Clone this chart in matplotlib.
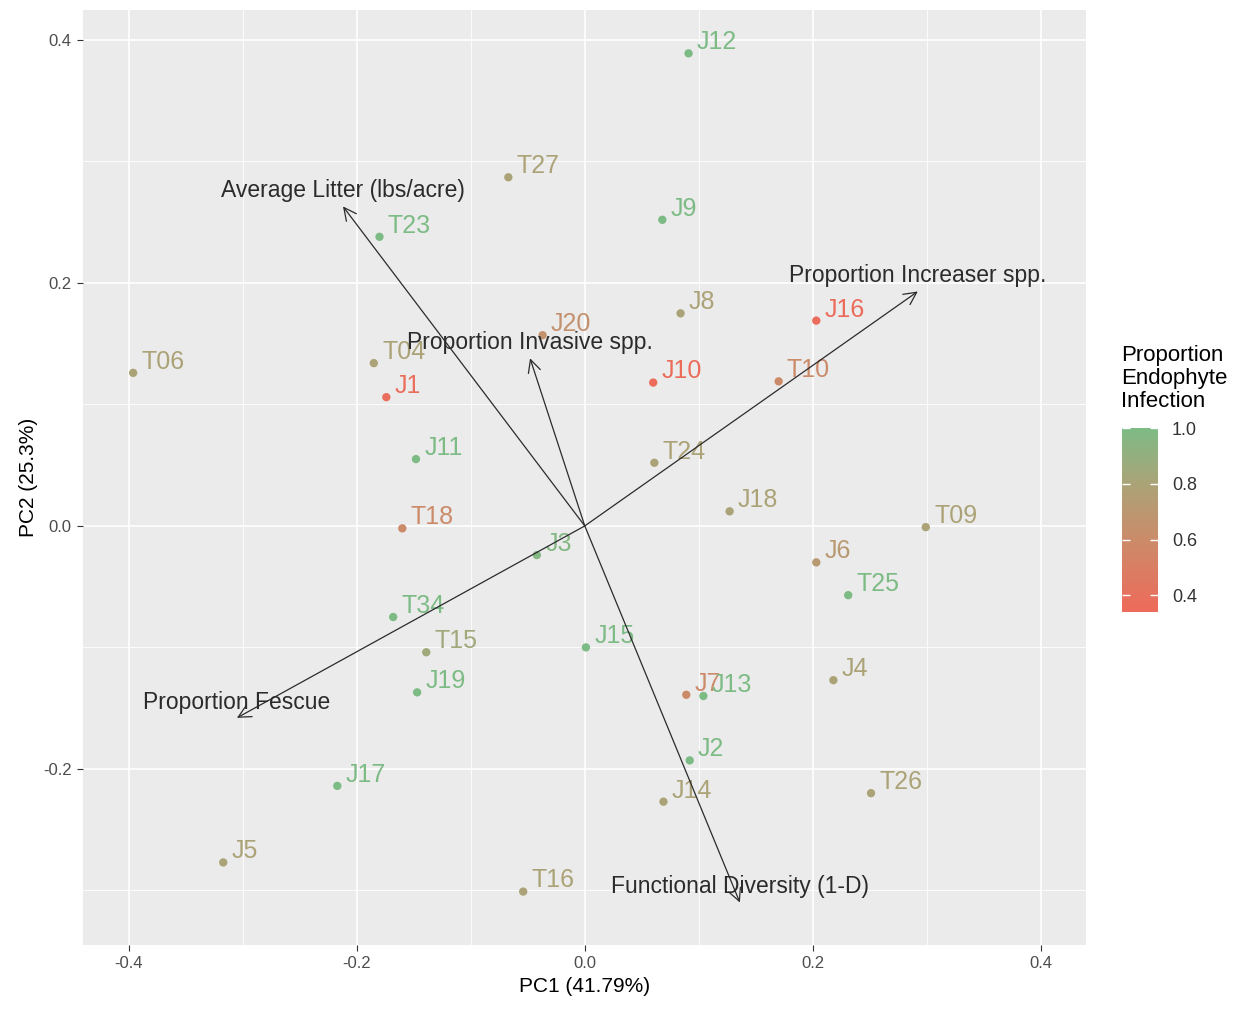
import numpy as np
import matplotlib
matplotlib.use("Agg")
import matplotlib.pyplot as plt
from matplotlib.colors import LinearSegmentedColormap, Normalize

plt.rcParams["font.family"] = ["Liberation Sans", "DejaVu Sans"]

# ============================================================
# DATA
# ============================================================

sites = ["J12", "T27", "J9", "T23", "J8", "J16", "J20", "T04", "T06", "J1",
         "J10", "T10", "J11", "T24", "J18", "T09", "T18", "J3", "J6", "T25",
         "T34", "T15", "J15", "J4", "J19", "J7", "J13", "J2", "J17", "T26",
         "J14", "J5", "T16"]
pc1 = [0.091, -0.067, 0.068, -0.180, 0.084, 0.203, -0.037, -0.185, -0.396, -0.174,
       0.060, 0.170, -0.148, 0.061, 0.127, 0.299, -0.160, -0.042, 0.203, 0.231,
       -0.168, -0.139, 0.001, 0.218, -0.147, 0.089, 0.104, 0.092, -0.217, 0.251,
       0.069, -0.317, -0.054]
pc2 = [0.389, 0.287, 0.252, 0.238, 0.175, 0.169, 0.157, 0.134, 0.126, 0.106,
       0.118, 0.119, 0.055, 0.052, 0.012, -0.001, -0.002, -0.024, -0.030, -0.057,
       -0.075, -0.104, -0.100, -0.127, -0.137, -0.139, -0.140, -0.193, -0.214, -0.220,
       -0.227, -0.277, -0.301]
infection = [1.0, 0.8, 1.0, 1.0, 0.8, 0.36, 0.65, 0.8, 0.8, 0.37,
             0.36, 0.6, 1.0, 0.8, 0.8, 0.8, 0.6, 0.97, 0.72, 1.0,
             1.0, 0.85, 1.0, 0.8, 1.0, 0.6, 1.0, 1.0, 1.0, 0.8,
             0.8, 0.8, 0.8]

vectors = ["Average Litter (lbs/acre)", "Proportion Increaser spp.",
           "Proportion Invasive spp.", "Proportion Fescue",
           "Functional Diversity (1-D)"]
vec_x = [-0.212, 0.292, -0.048, -0.305, 0.136]
vec_y = [0.263, 0.193, 0.138, -0.158, -0.310]

# ============================================================
# STYLE
# ============================================================

panel_bg = "#EBEBEB"
text_dark = "#2B2B2B"
cmap = LinearSegmentedColormap.from_list(
    "endo", [(0.0, "#EE6A5A"), (0.394, "#CB8B69"), (0.697, "#ABA377"), (1.0, "#7DBB85")])
norm = Normalize(vmin=0.34, vmax=1.0)

fig = plt.figure(figsize=(12.44, 10.09), dpi=100)
ax = fig.add_axes([0.0667, 0.0634, 0.8063, 0.9267])
ax.set_facecolor(panel_bg)
ax.set_xlim(-0.44, 0.4395)
ax.set_ylim(-0.345, 0.4247)

for v in [-0.3, -0.1, 0.1, 0.3]:
    ax.axvline(v, color="white", lw=0.6, zorder=0)
for v in [-0.4, -0.2, 0.0, 0.2, 0.4]:
    ax.axvline(v, color="white", lw=1.2, zorder=0)
for v in [-0.3, -0.1, 0.1, 0.3]:
    ax.axhline(v, color="white", lw=0.6, zorder=0)
for v in [-0.2, 0.0, 0.2, 0.4]:
    ax.axhline(v, color="white", lw=1.2, zorder=0)

for s in ax.spines.values():
    s.set_visible(False)
ax.set_xticks([-0.4, -0.2, 0.0, 0.2, 0.4])
ax.set_yticks([-0.2, 0.0, 0.2, 0.4])
ax.set_xticklabels(["-0.4", "-0.2", "0.0", "0.2", "0.4"])
ax.set_yticklabels(["-0.2", "0.0", "0.2", "0.4"])
ax.tick_params(length=4, width=0.8, color="#333333", labelsize=12, labelcolor="#4D4D4D", pad=4)
ax.set_xlabel("PC1 (41.79%)", fontsize=15, color="black", labelpad=4)
ax.set_ylabel("PC2 (25.3%)", fontsize=15, color="black", labelpad=4)

# points and labels
sc = ax.scatter(pc1, pc2, c=infection, cmap=cmap, norm=norm, s=36, zorder=3, linewidths=0)
for name, x, y, val in zip(sites, pc1, pc2, infection):
    ax.annotate(name, (x, y), xytext=(6, 8), textcoords="offset points",
                ha="left", va="center", fontsize=18, color=cmap(norm(val)), zorder=4)

# loading arrows
for name, x, y in zip(vectors, vec_x, vec_y):
    ax.annotate("", xy=(x, y), xytext=(0, 0),
                arrowprops=dict(arrowstyle="->,head_length=0.9,head_width=0.45",
                                color=text_dark, lw=0.9, shrinkA=0, shrinkB=0), zorder=5)
    ax.text(x, y + 0.013, name, ha="center", va="center", fontsize=16.5, color=text_dark, zorder=6)

# colour bar legend
cax = fig.add_axes([0.902, 0.3935, 0.029, 0.182])
cb = fig.colorbar(sc, cax=cax)
cb.outline.set_visible(False)
cb.set_ticks([0.4, 0.6, 0.8, 1.0])
cb.set_ticklabels(["0.4", "0.6", "0.8", "1.0"])
cax.tick_params(direction="in", length=6, width=1, color="white", left=True, right=True,
                labelsize=13, labelcolor="#333333", pad=10)
fig.text(0.901, 0.592, "Proportion\nEndophyte\nInfection", ha="left", va="bottom",
         fontsize=16, color="black", linespacing=1.1)

fig.savefig("out.png", dpi=100)
